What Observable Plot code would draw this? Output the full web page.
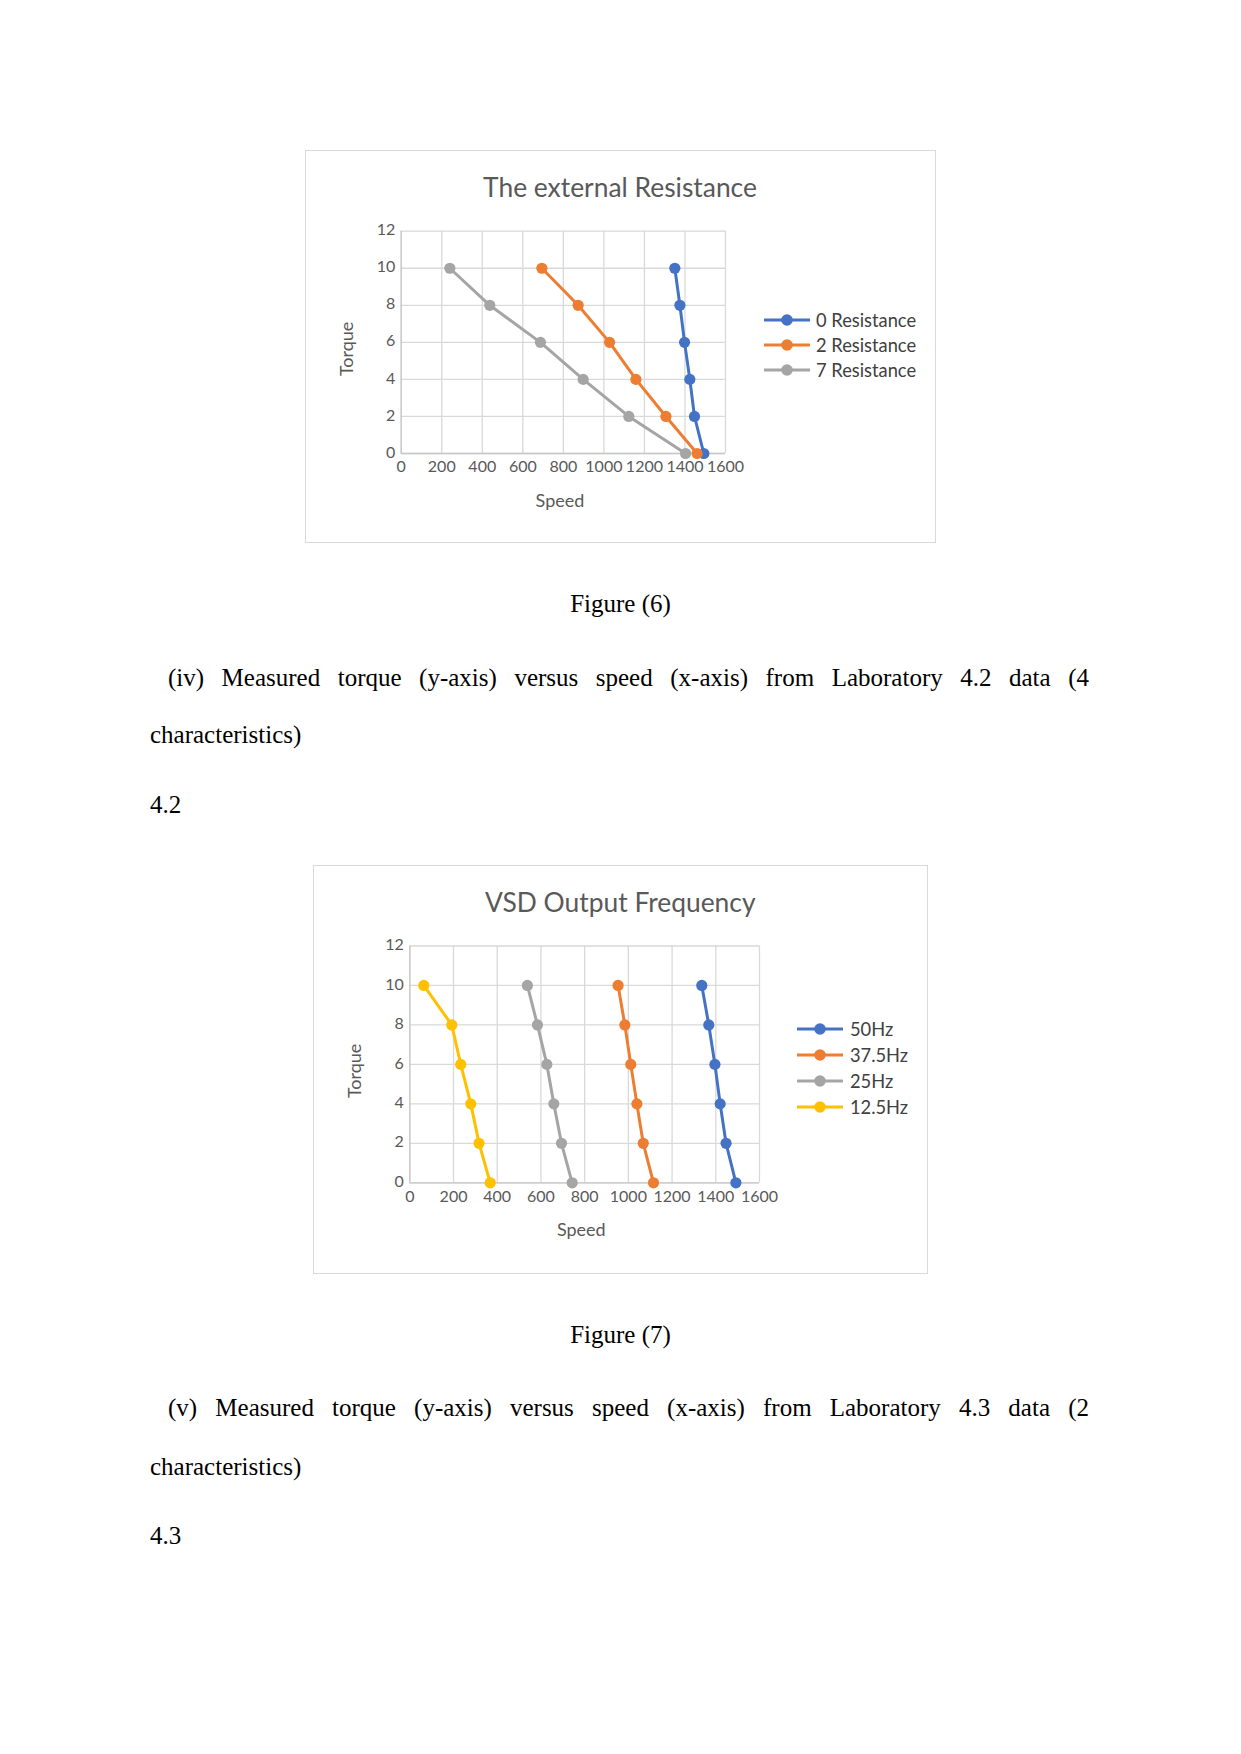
<!DOCTYPE html>
<html>
<head>
<meta charset="utf-8">
<script src="https://cdn.jsdelivr.net/npm/d3@7"></script>
<script src="https://cdn.jsdelivr.net/npm/@observablehq/plot@0.6"></script>
<style>
  html, body { margin: 0; padding: 0; background: #fff; }
  #page { position: relative; width: 1241px; height: 1754px; overflow: hidden; background: #fff;
          font-family: "Liberation Serif", "Times New Roman", serif; color: #000; }
  .line { position: absolute; font-size: 25px; line-height: 25px; white-space: nowrap; }
  .just { text-align: justify; text-align-last: justify; white-space: normal; }
  .box { position: absolute; border: 1.3px solid #d9d9d9; box-sizing: border-box; }
  .ctitle { position: absolute; font-family: Lato, sans-serif; color: #595959; text-align: center;
            font-size: 26.4px; line-height: 26px; white-space: nowrap; }
  .legend { position: absolute; font-family: Lato, sans-serif; font-size: 18.3px; color: #404040; }
  .legend .row { display: flex; align-items: center; white-space: nowrap; }
  .legend svg { display: block; }
  .plotwrap { position: absolute; }
</style>
</head>
<body>
<div id="page"></div>
<script>
// ---------- data ----------
const torque = [10, 8, 6, 4, 2, 0];

const resistanceSeries = ["0 Resistance", "2 Resistance", "7 Resistance"];
const speed0R = [1350, 1375, 1398, 1424, 1447, 1493];
const speed2R = [694, 873, 1028, 1158, 1306, 1460];
const speed7R = [240, 437, 687, 898, 1123, 1403];

const freqSeries = ["50Hz", "37.5Hz", "25Hz", "12.5Hz"];
const speed50 = [1336, 1368, 1396, 1420, 1447, 1492];
const speed375 = [953, 984, 1011, 1039, 1068, 1115];
const speed25 = [538, 584, 627, 659, 694, 743];
const speed125 = [64, 192, 233, 279, 317, 368];

const xTicks = [0, 200, 400, 600, 800, 1000, 1200, 1400, 1600];
const yTicks = [0, 2, 4, 6, 8, 10, 12];

const title1 = "The external Resistance";
const title2 = "VSD Output Frequency";
const xLabel = "Speed";
const yLabel = "Torque";

// ---------- styles ----------
const colors1 = ["#4472C4", "#ED7D31", "#A5A5A5"];
const colors2 = ["#4472C4", "#ED7D31", "#A5A5A5", "#FFC000"];

const page = document.getElementById("page");

function addText(cls, text, style) {
  const d = document.createElement("div");
  d.className = cls;
  d.textContent = text;
  Object.assign(d.style, style);
  page.appendChild(d);
  return d;
}

function shiftGroup(svg, label, dx, dy) {
  const g = svg.querySelector(`g[aria-label="${label}"]`);
  if (!g) return;
  const t = g.getAttribute("transform") || "";
  g.setAttribute("transform", `translate(${dx},${dy}) ${t}`);
}

function makeChart(series, speeds, colors, L) {
  const rows = series.flatMap((s, i) => speeds[i].map((v, j) => ({series: s, speed: v, torque: torque[j]})));
  const svg = Plot.plot({
    width: L.width, height: L.height,
    marginLeft: L.ml, marginTop: L.mt, marginRight: L.mr, marginBottom: L.mb,
    style: {fontFamily: "Lato, sans-serif", fontSize: "16px", color: "#595959", background: "transparent", overflow: "visible"},
    x: {domain: [0, 1600]},
    y: {domain: [0, 12]},
    color: {domain: series, range: colors},
    marks: [
      Plot.gridX(xTicks, {stroke: "#d9d9d9", strokeOpacity: 1, strokeWidth: 1.3}),
      Plot.gridY(yTicks, {stroke: "#d9d9d9", strokeOpacity: 1, strokeWidth: 1.3}),
      Plot.ruleY([0], {stroke: "#c8c8c8", strokeWidth: 1.3}),
      Plot.ruleX([0], {stroke: "#c8c8c8", strokeWidth: 1.3}),
      Plot.axisX(xTicks, {tickSize: 0, tickPadding: L.xpad, tickFormat: "d", label: null, fontSize: 16}),
      Plot.axisY(yTicks, {tickSize: 0, tickPadding: 6, tickFormat: "d", label: null, fontSize: 16, dy: -1}),
      Plot.axisX([], {label: xLabel, labelAnchor: "center", labelArrow: "none", labelOffset: L.xlo, fontSize: 18}),
      Plot.axisY([], {label: yLabel, labelAnchor: "center", labelArrow: "none", labelOffset: L.ylo, fontSize: 18}),
      Plot.line(rows, {x: "speed", y: "torque", z: "series", stroke: "series", strokeWidth: 3, curve: "linear"}),
      Plot.dot(rows, {x: "speed", y: "torque", fill: "series", r: 5.6})
    ]
  });
  shiftGroup(svg, "x-axis label", -3.4, 0);
  shiftGroup(svg, "y-axis label", 0, 6.5);
  const wrap = document.createElement("div");
  wrap.className = "plotwrap";
  wrap.style.left = L.left + "px";
  wrap.style.top = L.top + "px";
  wrap.appendChild(svg);
  page.appendChild(wrap);

  // legend
  const leg = document.createElement("div");
  leg.className = "legend";
  leg.style.left = L.legLeft + "px";
  leg.style.top = L.legTop + "px";
  series.forEach((s, i) => {
    const r = document.createElement("div");
    r.className = "row";
    r.style.height = L.legRow + "px";
    const ns = "http://www.w3.org/2000/svg";
    const sv = document.createElementNS(ns, "svg");
    sv.setAttribute("width", 46); sv.setAttribute("height", 14);
    sv.style.marginRight = L.legGap + "px";
    const ln = document.createElementNS(ns, "line");
    ln.setAttribute("x1", 0); ln.setAttribute("x2", 46); ln.setAttribute("y1", 7); ln.setAttribute("y2", 7);
    ln.setAttribute("stroke", colors[i]); ln.setAttribute("stroke-width", 3);
    const c = document.createElementNS(ns, "circle");
    c.setAttribute("cx", 23); c.setAttribute("cy", 7); c.setAttribute("r", 5.8); c.setAttribute("fill", colors[i]);
    sv.appendChild(ln); sv.appendChild(c);
    const t = document.createElement("span");
    t.textContent = s;
    r.appendChild(sv); r.appendChild(t);
    leg.appendChild(r);
  });
  page.appendChild(leg);
}

// ---------- Chart 1 ----------
addText("box", "", {left: "304.5px", top: "150px", width: "631px", height: "393px"});
addText("ctitle", title1, {left: "304.5px", width: "631px", top: "173.7px"});
makeChart(resistanceSeries, [speed0R, speed2R, speed7R], colors1, {
  left: 330, top: 205, width: 415, height: 308, ml: 70.7, mt: 25.7, mr: 20, mb: 60,
  xpad: 7, xlo: 53.5, ylo: 61, legLeft: 764, legTop: 307, legRow: 25.3, legGap: 6
});

// ---------- Text between ----------
addText("line", "Figure (6)", {left: "0px", width: "1241px", textAlign: "center", top: "590.7px"});
addText("line just", "(iv) Measured torque (y-axis) versus speed (x-axis) from Laboratory 4.2 data (4",
  {left: "168px", width: "921px", top: "665px"});
addText("line", "characteristics)", {left: "150px", top: "722px"});
addText("line", "4.2", {left: "150px", top: "792px"});

// ---------- Chart 2 ----------
addText("box", "", {left: "313px", top: "865px", width: "614.5px", height: "408.5px"});
addText("ctitle", title2, {left: "313px", width: "614.5px", top: "888.5px"});
makeChart(freqSeries, [speed50, speed375, speed25, speed125], colors2, {
  left: 340, top: 920, width: 439, height: 322.3, ml: 69.3, mt: 25.5, mr: 20, mb: 60,
  xpad: 7.5, xlo: 53.5, ylo: 61.3, legLeft: 797.3, legTop: 1016, legRow: 26, legGap: 6.7
});

addText("line", "Figure (7)", {left: "0px", width: "1241px", textAlign: "center", top: "1322px"});
addText("line just", "(v) Measured torque (y-axis) versus speed (x-axis) from Laboratory 4.3 data (2",
  {left: "168px", width: "921px", top: "1395px"});
addText("line", "characteristics)", {left: "150px", top: "1453.6px"});
addText("line", "4.3", {left: "150px", top: "1523px"});
</script>
</body>
</html>
